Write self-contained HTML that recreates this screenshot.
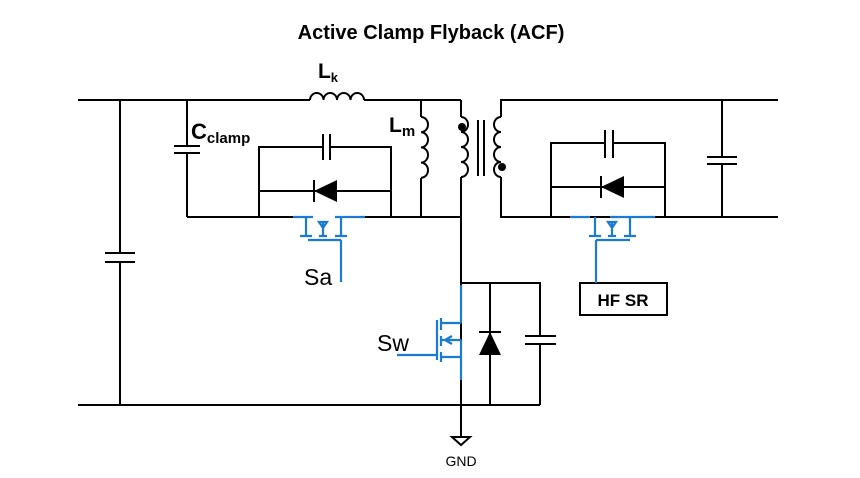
<!DOCTYPE html>
<html><head><style>body{margin:0;background:#fff}svg{display:block}</style></head><body>
<svg width="860" height="478" xmlns="http://www.w3.org/2000/svg" font-family="Liberation Sans, sans-serif">
<rect width="860" height="478" fill="#fff"/>
<text x="431" y="39" text-anchor="middle" font-size="20" font-weight="bold">Active Clamp Flyback (ACF)</text>
<g stroke="#000" stroke-width="2" fill="none">
<path d="M78 100H310 M364 100H461"/>
<path d="M310 100 a6.75 7 0 0 1 13.5 0 a6.75 7 0 0 1 13.5 0 a6.75 7 0 0 1 13.5 0 a6.75 7 0 0 1 13.5 0"/>
<path d="M120 100V253 M120 262V405 M105 253H135 M105 262H135"/>
<path d="M78 405H540"/>
<path d="M187 100V146 M187 153V217 M174 146H200 M174 153H200"/>
<path d="M259 217V147H323 M330 147H391V217 M323 134V160 M330 134V160"/>
<path d="M259 191H391"/>
<path d="M187 217H293 M365 217H461"/>
<path d="M421 100V117 M421 178V217"/>
<path d="M421 117 a7 7.6 0 0 1 0 15.2 a7 7.6 0 0 1 0 15.2 a7 7.6 0 0 1 0 15.2 a7 7.6 0 0 1 0 15.2"/>
<path d="M461 100V117 M461 177V405"/>
<path d="M461 117 a7 7.5 0 0 1 0 15 a7 7.5 0 0 1 0 15 a7 7.5 0 0 1 0 15 a7 7.5 0 0 1 0 15"/>
<path d="M478 120V176 M484 120V176"/>
<path d="M501 117V100H778 M501 177V217H778"/>
<path d="M501 117 a7 7.5 0 0 0 0 15 a7 7.5 0 0 0 0 15 a7 7.5 0 0 0 0 15 a7 7.5 0 0 0 0 15"/>
<path d="M551 217V143H605 M613 143H665V217 M605 130V158 M613 130V158 M551 187H665"/>
<path d="M722 100V157 M722 164V217 M707 157H737 M707 164H737"/>
<path d="M461 283H540V336 M540 344V405 M525 336H556 M525 344H556 M490 283V405"/>
<path d="M461 405V437 M452 437H470L461 445Z"/>
<rect x="580" y="283" width="87" height="32"/>
</g>
<g fill="#000">
<circle cx="462" cy="127" r="4"/><circle cx="502" cy="167" r="4"/>
<path d="M314 191L337 180V202Z"/><path d="M314 180V202" stroke="#000" stroke-width="2"/>
<path d="M601 187L624 176V198Z"/><path d="M601 176V198" stroke="#000" stroke-width="2"/>
<path d="M490 332L479 355H501Z"/><path d="M479 332H501" stroke="#000" stroke-width="2"/>
</g>
<g stroke="#1a7ad4" stroke-width="2.2" fill="none">
<path d="M293 217H313 M335 217H365 M306 217V236 M341 217V236 M300 236H312 M319 236H327 M335 236H347 M323 222V236 M319 222H327 L323 228Z M308 240H341 M341 240V282"/>
<path d="M570 217H590 M610 217H655 M595 217V236 M630 217V236 M589 236H601 M608 236H616 M624 236H636 M612 222V236 M608 222H616 L612 228Z M596 240H630 M596 240V283"/>
<path d="M461 285V323 M461 340V380 M441 318V330 M441 336V346 M441 352V362 M441 323H461 M441 357H461 M441 340H461 M452 336L445 340L452 344 M437 320V360 M397 355H437"/>
</g>
<text x="328" y="78" text-anchor="middle" font-size="21" font-weight="bold">L<tspan font-size="13" dy="4">k</tspan></text>
<text x="191" y="139" font-size="22" font-weight="bold">C<tspan font-size="15" dy="4">clamp</tspan></text>
<text x="389" y="132" font-size="21" font-weight="bold">L<tspan font-size="15" dy="4">m</tspan></text>
<text x="304" y="285" font-size="23">Sa</text>
<text x="377" y="351" font-size="23">Sw</text>
<text x="461" y="466" text-anchor="middle" font-size="14">GND</text>
<text x="623" y="306" text-anchor="middle" font-size="17" font-weight="bold">HF SR</text>
</svg>
</body></html>
